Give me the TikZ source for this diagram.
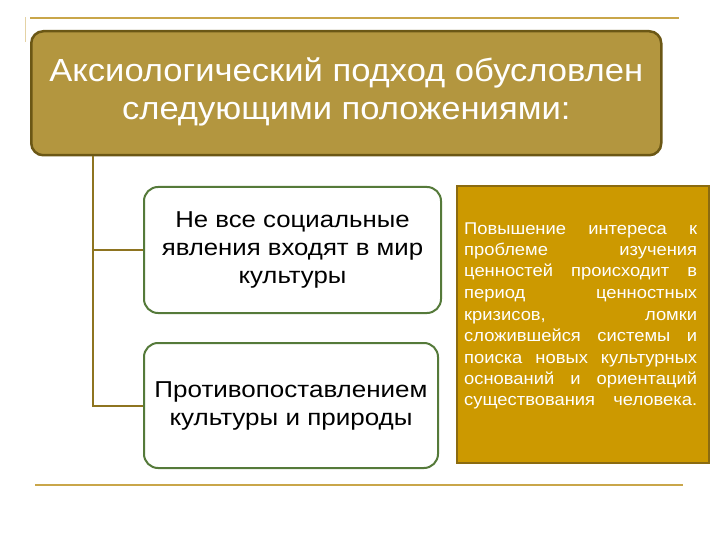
\documentclass[tikz,border=0pt]{standalone}
\usepackage{fontspec}
\setmainfont{Liberation Sans}
\definecolor{topfill}{HTML}{B3963F}
\definecolor{topdraw}{HTML}{6B5715}
\definecolor{rulegold}{HTML}{C9A64A}
\definecolor{conn}{HTML}{8E7420}
\definecolor{greenb}{HTML}{557A3A}
\definecolor{rfill}{HTML}{CC9900}
\definecolor{rdraw}{HTML}{8B6B10}
\tikzset{
  topbox/.style={draw=topdraw, fill=topfill, line width=2.5pt, rounded corners=12pt, anchor=north west, inner sep=0pt, text=white, align=center},
  itembox/.style={draw=greenb, fill=white, line width=2pt, rounded corners=14pt, anchor=north west, inner sep=0pt, align=center, text=black},
  notebox/.style={draw=rdraw, fill=rfill, line width=2pt, anchor=north west, inner sep=0pt, text=white},
  connline/.style={draw=conn, line width=2pt},
  ruleline/.style={draw=rulegold, line width=2.5pt}
}
\newcommand{\jl}[1]{\noindent\scalebox{1.08}[1]{\makebox[215.7pt][s]{#1}}\par}
\newcommand{\titletext}{{\fontsize{32pt}{38pt}\selectfont\scalebox{1.08}[1]{\begin{tabular}{@{}c@{}}Аксиологический подход обусловлен\\ следующими положениями:\end{tabular}}}}
\begin{document}
\begin{tikzpicture}[x=1pt,y=-1pt]
\useasboundingbox (0,0) rectangle (720,540);
\coordinate (tl) at (30,18);
\coordinate (tr) at (679,18);
\coordinate (tk) at (25,42);
\coordinate (tk0) at (25,17);
\draw[ruleline] (tl) -- (tr);
\draw[draw=rulegold!50, line width=1pt] (tk0) -- (tk);
\node[topbox, minimum width=630pt, minimum height=124pt] (top) at (30,30) {\titletext};
\node[itembox, minimum width=297pt, minimum height=126pt] (b1) at (143,186)
  {\fontsize{23pt}{28pt}\selectfont\scalebox{1.12}[1]{\begin{tabular}{@{}c@{}}Не все социальные\\ явления входят в мир\\ культуры\end{tabular}}};
\node[itembox, minimum width=294pt, minimum height=125pt] (b2) at (143,342)
  {\fontsize{23pt}{28pt}\selectfont\scalebox{1.13}[1]{\begin{tabular}{@{}c@{}}Противопоставлением\\ культуры и природы\end{tabular}}};
\node[notebox, minimum width=252pt, minimum height=277pt] (note) at (456,185) {};
\node[anchor=base west, inner sep=0pt, text=white] (notetext) at (464,234)
  {\vtop{\hsize=233pt\fontsize{17pt}{21.5pt}\selectfont\parskip=0pt
   \jl{Повышение интереса к}
   \jl{проблеме изучения}
   \jl{ценностей происходит в}
   \jl{период ценностных}
   \jl{кризисов, ломки}
   \jl{сложившейся системы и}
   \jl{поиска новых культурных}
   \jl{оснований и ориентаций}
   \jl{существования человека.}}};
\coordinate (j) at (93,154);
\draw[connline] (top.south -| j) |- (b2.west);
\draw[connline] (j |- b1.west) -- (b1.west);
\coordinate (bl) at (35,485);
\coordinate (br) at (683,485);
\draw[ruleline] (bl) -- (br);
\end{tikzpicture}
\end{document}
